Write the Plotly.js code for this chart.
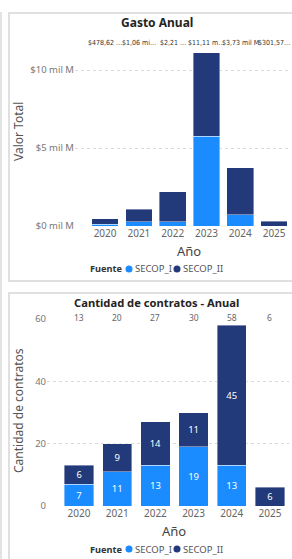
<!DOCTYPE html>
<html>
<head>
<meta charset="utf-8">
<script src="https://cdn.plot.ly/plotly-3.0.1.min.js"></script>
<style>
html,body{margin:0;padding:0;background:#fff;width:292px;height:559px;overflow:hidden;}
.b{position:absolute;box-sizing:border-box;}
#chart{position:absolute;left:0;top:0;width:292px;height:559px;}
</style>
</head>
<body>
<div class="b" style="left:0;top:12px;width:2px;height:547px;background:#e3e3e3;"></div>
<div class="b" style="left:8px;top:12px;width:300px;height:270px;border:2px solid #e0e0e0;"></div>
<div class="b" style="left:8px;top:292px;width:300px;height:280px;border:2px solid #e0e0e0;"></div>
<div id="chart"></div>
<script>
// ---- data ----
const years = ['2020','2021','2022','2023','2024','2025'];
// Gasto anual (mil M = miles de millones)
const gastoSecopI  = [0.10, 0.28, 0.28, 5.75, 0.71, 0.00];
const gastoSecopII = [0.38, 0.78, 1.93, 5.36, 3.02, 0.30];
const gastoLabels  = ['$478,62 …', '$1,06 mi…', '$2,21 …', '$11,11 m…', '$3,73 mil M', '$301,57…'];
const gastoTicks   = [0, 5, 10];
const gastoTickText = ['$0 mil M', '$5 mil M', '$10 mil M'];
// Cantidad de contratos
const cantSecopI  = [7, 11, 13, 19, 13, 0];
const cantSecopII = [6, 9, 14, 11, 45, 6];
const cantTotals  = [13, 20, 27, 30, 58, 6];
const cantTicks   = [0, 20, 40, 60];

const C1 = '#1A8CFF', C2 = '#233A7A';
const W = 292, H = 559;
const px = x => x / W;
const py = y => 1 - y / H;
const FONT = 'Noto Sans, Open Sans, sans-serif';
const NARROW = 'Liberation Sans Narrow, DejaVu Sans Condensed, Liberation Sans, sans-serif';

const traces = [
  {type:'bar', x:years, y:gastoSecopI, name:'SECOP_I', marker:{color:C1, line:{color:'rgba(255,255,255,0.5)', width:0.8}}, width:0.79, xaxis:'x', yaxis:'y', hoverinfo:'none'},
  {type:'bar', x:years, y:gastoSecopII, name:'SECOP_II', marker:{color:C2, line:{color:'rgba(255,255,255,0.5)', width:0.8}}, width:0.79, xaxis:'x', yaxis:'y', hoverinfo:'none'},
  {type:'bar', x:years, y:cantSecopI, name:'SECOP_I', marker:{color:C1, line:{color:'rgba(255,255,255,0.5)', width:0.8}}, width:0.77, xaxis:'x2', yaxis:'y2',
    text:cantSecopI.map(v => v > 0 ? String(v) : ''), textposition:'inside', insidetextanchor:'middle', textangle:0,
    textfont:{color:'#fff', size:9.5, family:FONT}, hoverinfo:'none'},
  {type:'bar', x:years, y:cantSecopII, name:'SECOP_II', marker:{color:C2, line:{color:'rgba(255,255,255,0.5)', width:0.8}}, width:0.77, xaxis:'x2', yaxis:'y2',
    text:cantSecopII.map(v => v > 0 ? String(v) : ''), textposition:'inside', insidetextanchor:'middle', textangle:0,
    textfont:{color:'#fff', size:9.5, family:FONT}, hoverinfo:'none'}
];

const ann = [];
// titles
ann.push({text:'<b>Gasto Anual</b>', x:px(157), y:py(22), xref:'paper', yref:'paper', showarrow:false, font:{size:12, color:'#252423', family:FONT}, xanchor:'center', yanchor:'middle'});
ann.push({text:'<b>Cantidad de contratos - Anual</b>', x:px(156), y:py(302), xref:'paper', yref:'paper', showarrow:false, font:{size:11.2, color:'#252423', family:FONT}, xanchor:'center', yanchor:'middle'});
// axis titles
ann.push({text:'Valor Total', x:px(18), y:py(132), xref:'paper', yref:'paper', showarrow:false, textangle:-90, font:{size:12, color:'#555', family:FONT}, xanchor:'center', yanchor:'middle'});
ann.push({text:'Cantidad de contratos', x:px(18), y:py(411), xref:'paper', yref:'paper', showarrow:false, textangle:-90, font:{size:12, color:'#555', family:FONT}, xanchor:'center', yanchor:'middle'});
ann.push({text:'Año', x:px(189), y:py(251), xref:'paper', yref:'paper', showarrow:false, font:{size:13, color:'#444', family:FONT}, xanchor:'center', yanchor:'middle'});
ann.push({text:'Año', x:px(174), y:py(531), xref:'paper', yref:'paper', showarrow:false, font:{size:13, color:'#444', family:FONT}, xanchor:'center', yanchor:'middle'});
// totals labels (x as category index)
years.forEach((yr, i) => {
  ann.push({text:gastoLabels[i], x:i, y:py(43), xref:'x', yref:'paper', showarrow:false, borderpad:0, font:{size:7, color:'#333', family:NARROW}, xanchor:'center', yanchor:'middle'});
  ann.push({text:String(cantTotals[i]), x:i, y:py(317), xref:'x2', yref:'paper', showarrow:false, font:{size:8.5, color:'#666', family:FONT}, xanchor:'center', yanchor:'middle'});
});
// legends
const shapes = [];
[[269, 88], [549, 88]].forEach(([ly, lx]) => {
  ann.push({text:'<b>Fuente</b>', x:px(lx), y:py(ly), xref:'paper', yref:'paper', showarrow:false, font:{size:9.2, color:'#333', family:FONT}, xanchor:'left', yanchor:'middle'});
  ann.push({text:'SECOP_I', x:px(133), y:py(ly), xref:'paper', yref:'paper', showarrow:false, font:{size:9.5, color:'#555', family:FONT}, xanchor:'left', yanchor:'middle'});
  ann.push({text:'SECOP_II', x:px(181), y:py(ly), xref:'paper', yref:'paper', showarrow:false, font:{size:9.5, color:'#555', family:FONT}, xanchor:'left', yanchor:'middle'});
  shapes.push({type:'circle', xref:'paper', yref:'paper', x0:px(125.5), x1:px(132.5), y0:py(ly+3.5), y1:py(ly-3.5), fillcolor:C1, line:{width:0}});
  shapes.push({type:'circle', xref:'paper', yref:'paper', x0:px(173.5), x1:px(180.5), y0:py(ly+3.5), y1:py(ly-3.5), fillcolor:C2, line:{width:0}});
});

const axCommon = {showline:false, zeroline:false, ticks:'', fixedrange:true};
const layout = {
  width:W, height:H, margin:{l:0, r:0, t:0, b:0},
  paper_bgcolor:'rgba(0,0,0,0)', plot_bgcolor:'rgba(0,0,0,0)',
  barmode:'stack', showlegend:false,
  font:{family:FONT},
  xaxis:Object.assign({}, axCommon, {domain:[px(75), px(291)], range:[-0.89, 5.5], type:'category', showgrid:false,
    tickfont:{size:10, color:'#666', family:FONT}, anchor:'y'}),
  yaxis:Object.assign({}, axCommon, {domain:[py(226), py(46)], range:[0, 11.54], tickvals:gastoTicks, ticktext:gastoTickText,
    showgrid:true, gridcolor:'#d9d9d9', griddash:'dot', gridwidth:1, tickfont:{size:9.5, color:'#777', family:FONT}, anchor:'x'}),
  xaxis2:Object.assign({}, axCommon, {domain:[px(47), px(289)], range:[-0.84, 5.5], type:'category', showgrid:false,
    tickfont:{size:10, color:'#666', family:FONT}, anchor:'y2'}),
  yaxis2:Object.assign({}, axCommon, {domain:[py(506), py(319)], range:[0, 60], tickvals:cantTicks,
    showgrid:true, gridcolor:'#d9d9d9', griddash:'dot', gridwidth:1, tickfont:{size:9.5, color:'#777', family:FONT}, anchor:'x2'}),
  annotations:ann, shapes:shapes
};
Plotly.newPlot('chart', traces, layout, {staticPlot:true, displayModeBar:false});
</script>
</body>
</html>
